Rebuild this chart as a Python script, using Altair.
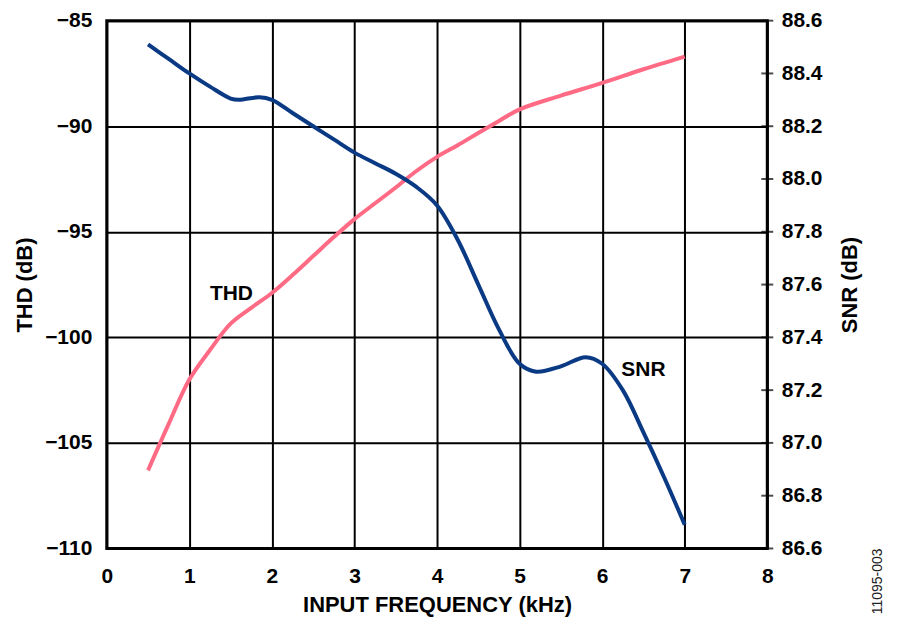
import altair as alt
import pandas as pd

# ---- data ----
thd_freq = [0.5, 0.75, 1.0, 1.25, 1.5, 1.75, 2.0, 2.25, 2.5, 2.75, 3.0, 3.25, 3.5,
            3.75, 4.0, 4.25, 4.5, 4.75, 5.0, 5.5, 6.0, 6.5, 7.0]
thd_db = [-106.3, -104.1, -102.0, -100.6, -99.35, -98.6, -97.9, -97.05, -96.15,
          -95.25, -94.4, -93.65, -92.9, -92.12, -91.45, -90.9, -90.32, -89.75, -89.2,
          -88.55, -87.95, -87.3, -86.7]

snr_freq = [0.5, 0.75, 1.0, 1.25, 1.5, 1.6, 1.85, 2.0, 2.25, 2.5, 2.75, 3.0, 3.25,
            3.5, 3.75, 4.0, 4.25, 4.5, 4.75, 5.0, 5.2, 5.5, 5.8, 6.0, 6.25, 6.5,
            6.75, 7.0]
snr_db = [88.51, 88.455, 88.40, 88.35, 88.305, 88.30, 88.31, 88.30, 88.25, 88.20,
          88.15, 88.10, 88.06, 88.02, 87.97, 87.90, 87.77, 87.60, 87.43, 87.30,
          87.27, 87.29, 87.325, 87.30, 87.20, 87.04, 86.87, 86.69]

x_ticks = [0, 1, 2, 3, 4, 5, 6, 7, 8]
thd_ticks = [-110, -105, -100, -95, -90, -85]
snr_ticks = [86.6, 86.8, 87.0, 87.2, 87.4, 87.6, 87.8, 88.0, 88.2, 88.4, 88.6]

label_text = ["THD", "SNR"]
label_freq = [1.51, 6.5]
label_thd = [-97.95, -101.54]

fig_id = "11095-003"

# ---- styling ----
W, H = 662, 529
FONT = "Liberation Sans"
PINK = "#ff6b84"
BLUE = "#0b3a84"

df_thd = pd.DataFrame({"f": thd_freq, "v": thd_db})
df_snr = pd.DataFrame({"f": snr_freq, "v": snr_db})
df_lab = pd.DataFrame({"f": label_freq, "v": label_thd, "t": label_text})
df_st = pd.DataFrame({"v": snr_ticks})
df_id = pd.DataFrame({"t": [fig_id]})

common_axis = dict(
    labelFont=FONT, labelFontSize=21, labelFontWeight="bold", labelColor="black",
    titleFont=FONT, titleFontSize=22, titleFontWeight="bold", titleColor="black",
    domain=False, ticks=False, labelFlush=False, labelOverlap=False,
)

x_enc = alt.X(
    "f:Q",
    scale=alt.Scale(domain=[0, 8], nice=False, zero=False),
    axis=alt.Axis(
        values=x_ticks, grid=True, gridColor="black", gridWidth=2, gridOpacity=1,
        labelPadding=17, title="INPUT FREQUENCY (kHz)", titleY=63,
        titleBaseline="alphabetic", format="d", **common_axis,
    ),
)

thd_scale = alt.Scale(domain=[-110, -85], nice=False, zero=False)
snr_scale = alt.Scale(domain=[86.6, 88.6], nice=False, zero=False)

thd_line = alt.Chart(df_thd).mark_line(
    color=PINK, strokeWidth=4, interpolate="catmull-rom"
).encode(
    x=x_enc,
    y=alt.Y(
        "v:Q", scale=thd_scale,
        axis=alt.Axis(
            orient="left", values=thd_ticks, grid=True, gridColor="black",
            gridWidth=2, gridOpacity=1, labelPadding=15, title="THD (dB)",
            titleAngle=270, titleX=-75, titleY=H / 2, titleAlign="center",
            titleBaseline="alphabetic", format="d", **common_axis,
        ),
    ),
)

snr_line = alt.Chart(df_snr).mark_line(
    color=BLUE, strokeWidth=4, interpolate="catmull-rom"
).encode(
    x=alt.X("f:Q"),
    y=alt.Y(
        "v:Q", scale=snr_scale,
        axis=alt.Axis(
            orient="right", values=snr_ticks, grid=False, labelPadding=14,
            format=".1f", title="SNR (dB)", titleAngle=270, titleX=89,
            titleY=H / 2, titleAlign="center", titleBaseline="alphabetic",
            **common_axis,
        ),
    ),
)

snr_tickmarks = alt.Chart(df_st).mark_tick(
    orient="horizontal", size=12, thickness=2, color="black"
).encode(
    x=alt.value(W),
    y=alt.Y("v:Q", scale=snr_scale, axis=None),
)

labels = alt.Chart(df_lab).mark_text(
    font=FONT, fontSize=21, fontWeight="bold", color="black", baseline="middle"
).encode(
    x=alt.X("f:Q"),
    y=alt.Y("v:Q", scale=thd_scale, axis=None),
    text="t:N",
)

fig_label = alt.Chart(df_id).mark_text(
    font=FONT, fontSize=14, color="#222222", angle=270, baseline="middle"
).encode(
    x=alt.value(773), y=alt.value(562), text="t:N"
)

chart = alt.layer(
    thd_line, snr_line, snr_tickmarks, labels, fig_label
).resolve_scale(y="independent").properties(
    width=W, height=H,
    padding={"left": 99, "top": 12, "right": 125, "bottom": 76},
    autosize=alt.AutoSizeParams(type="none"),
).configure_view(stroke="black", strokeWidth=3)

chart.save("out.html", embed_options={"renderer": "svg", "actions": False})
